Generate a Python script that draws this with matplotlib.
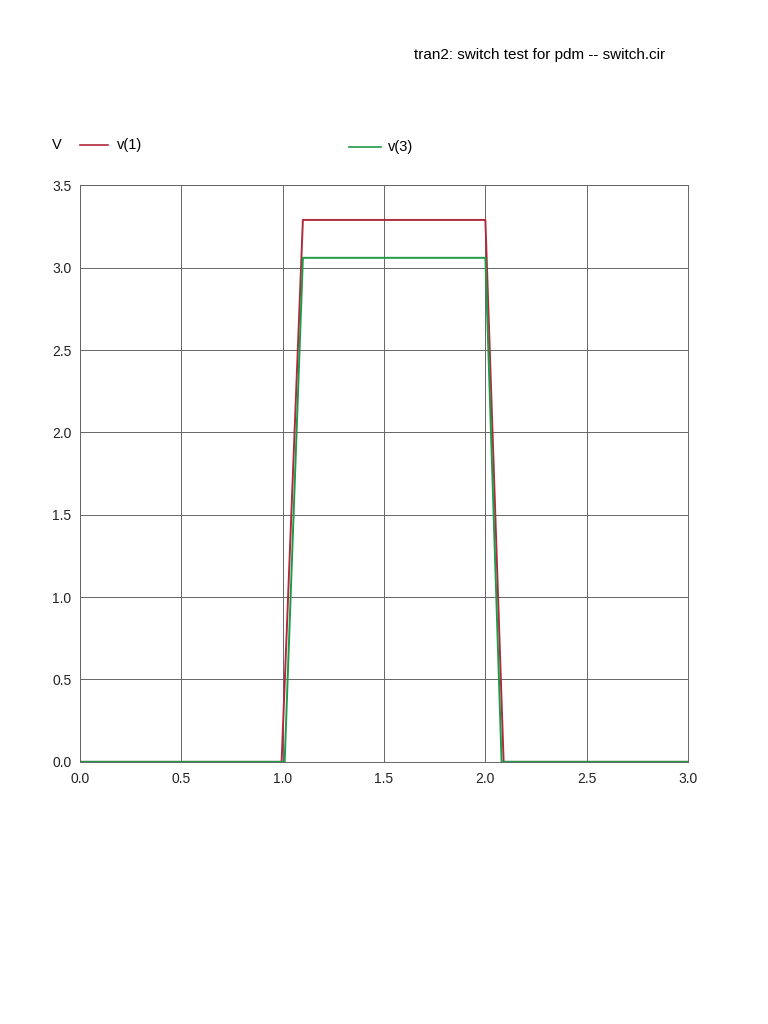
import matplotlib.pyplot as plt

plt.rcParams['font.family'] = ['Liberation Sans', 'DejaVu Sans']

# time (s) and node voltages
t1 = [0.0, 0.995, 1.1, 2.0, 2.09, 3.0]
v1 = [0.0, 0.0, 3.29, 3.29, 0.0, 0.0]
t3 = [0.0, 1.01, 1.1, 2.0, 2.08, 3.0]
v3 = [0.0, 0.0, 3.06, 3.06, 0.0, 0.0]

xticks = [0.0, 0.5, 1.0, 1.5, 2.0, 2.5, 3.0]
yticks = [0.0, 0.5, 1.0, 1.5, 2.0, 2.5, 3.0, 3.5]

red = '#b02a3c'
green = '#1f9a48'

fig = plt.figure(figsize=(7.68, 10.24), dpi=100)
ax = fig.add_axes([0.104, 0.256, 0.792, 0.563])

ax.plot(t1, v1, color=red, lw=1.4)
ax.plot(t3, v3, color=green, lw=1.4)

ax.set_xlim(0, 3)
ax.set_ylim(0, 3.5)
ax.set_xticks(xticks)
ax.set_yticks(yticks)
ax.set_xticklabels(['%.1f' % x for x in xticks])
ax.set_yticklabels(['%.1f' % y for y in yticks])
ax.grid(True, color='#666666', lw=0.7)
ax.tick_params(length=0, labelsize=10, colors='#222222')
ax.tick_params(axis='x', pad=7)
ax.tick_params(axis='y', pad=6)
for s in ax.spines.values():
    s.set_color('#666666')
    s.set_linewidth(0.7)

# header text and legend, drawn like the simulator output
fig.text(0.866, 0.946, 'tran2: switch test for pdm -- switch.cir',
         ha='right', va='center', fontsize=11)
fig.text(0.068, 0.858, 'V', ha='left', va='center', fontsize=10.5)
fig.add_artist(plt.Line2D([0.104, 0.140], [0.858, 0.858], color=red, lw=1.2))
fig.text(0.152, 0.858, 'v(1)', ha='left', va='center', fontsize=10.5)
fig.add_artist(plt.Line2D([0.454, 0.496], [0.856, 0.856], color=green, lw=1.2))
fig.text(0.505, 0.856, 'v(3)', ha='left', va='center', fontsize=10.5)

fig.savefig('out.png', dpi=100)
